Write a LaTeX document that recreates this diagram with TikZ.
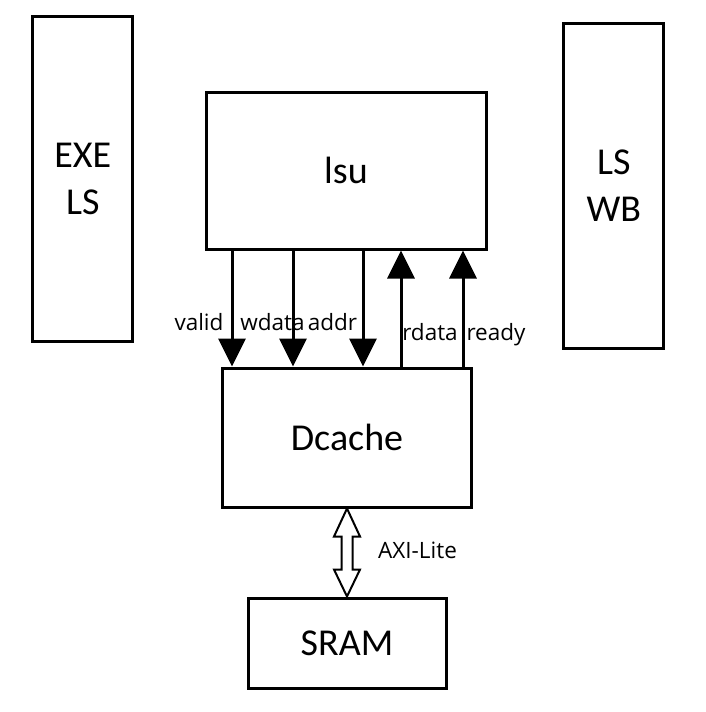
\documentclass[tikz,border=0pt]{standalone}
\usepackage{fontspec}
\setmainfont{Carlito}
\newfontfamily\labelfont{Open Sans}
\usetikzlibrary{arrows.meta,calc}

\begin{document}
\begin{tikzpicture}[x=1pt, y=-1pt,
    unit/.style={draw=black, line width=3pt, align=center, inner sep=0pt,
        font=\fontsize{38}{47}\selectfont},
    sig/.style={draw=black, line width=3pt, -{Triangle[width=27pt,length=28pt]}},
    bus/.style={draw=black, line width=2pt, fill=white},
    lbl/.style={font=\labelfont\fontsize{22.5}{27}\selectfont, inner sep=0pt, anchor=base},
]
    \useasboundingbox (0,0) rectangle (706,712);

    \node[unit, minimum width=100pt, minimum height=325pt] (exe_ls) at (82.8,178.7) {EXE\\LS};
    \node[unit, minimum width=100pt, minimum height=325pt] (ls_wb) at (613.8,185.5) {LS\\WB};
    \node[unit, minimum width=280pt, minimum height=157pt] (lsu) at (346,170.5) {lsu};
    \node[unit, minimum width=249pt, minimum height=139pt] (dcache) at (347,437.5) {Dcache};
    \node[unit, minimum width=198pt, minimum height=90pt] (sram) at (347,643) {SRAM};

    \coordinate (valid_x) at (232,0);
    \coordinate (wdata_x) at (293,0);
    \coordinate (addr_x) at (363,0);
    \coordinate (rdata_x) at (401,0);
    \coordinate (ready_x) at (463,0);

    % lsu -> dcache
    \path[sig] (valid_x |- lsu.south) -- (valid_x |- dcache.north);
    \path[sig] (wdata_x |- lsu.south) -- (wdata_x |- dcache.north);
    \path[sig] (addr_x |- lsu.south) -- (addr_x |- dcache.north);
    % dcache -> lsu
    \path[sig] (rdata_x |- dcache.north) -- (rdata_x |- lsu.south);
    \path[sig] (ready_x |- dcache.north) -- (ready_x |- lsu.south);

    \node[lbl] (valid) at (199,330) {valid};
    \node[lbl] (wdata) at (272.5,330) {wdata};
    \node[lbl] (addr) at (332.5,330) {addr};
    \node[lbl] (rdata) at (430,340) {rdata};
    \node[lbl] (ready) at (496,340) {ready};

    % AXI-Lite bus
    \path[bus] (dcache.south) -- ($(dcache.south)+(13,28)$) -- ($(dcache.south)+(5.5,28)$)
        -- ($(sram.north)+(5.5,-27)$) -- ($(sram.north)+(13,-27)$) -- (sram.north)
        -- ($(sram.north)+(-13,-27)$) -- ($(sram.north)+(-5.5,-27)$)
        -- ($(dcache.south)+(-5.5,28)$) -- ($(dcache.south)+(-13,28)$) -- cycle;
    \node[lbl, anchor=base west] (axi) at (378,558) {AXI-Lite};

\end{tikzpicture}
\end{document}
